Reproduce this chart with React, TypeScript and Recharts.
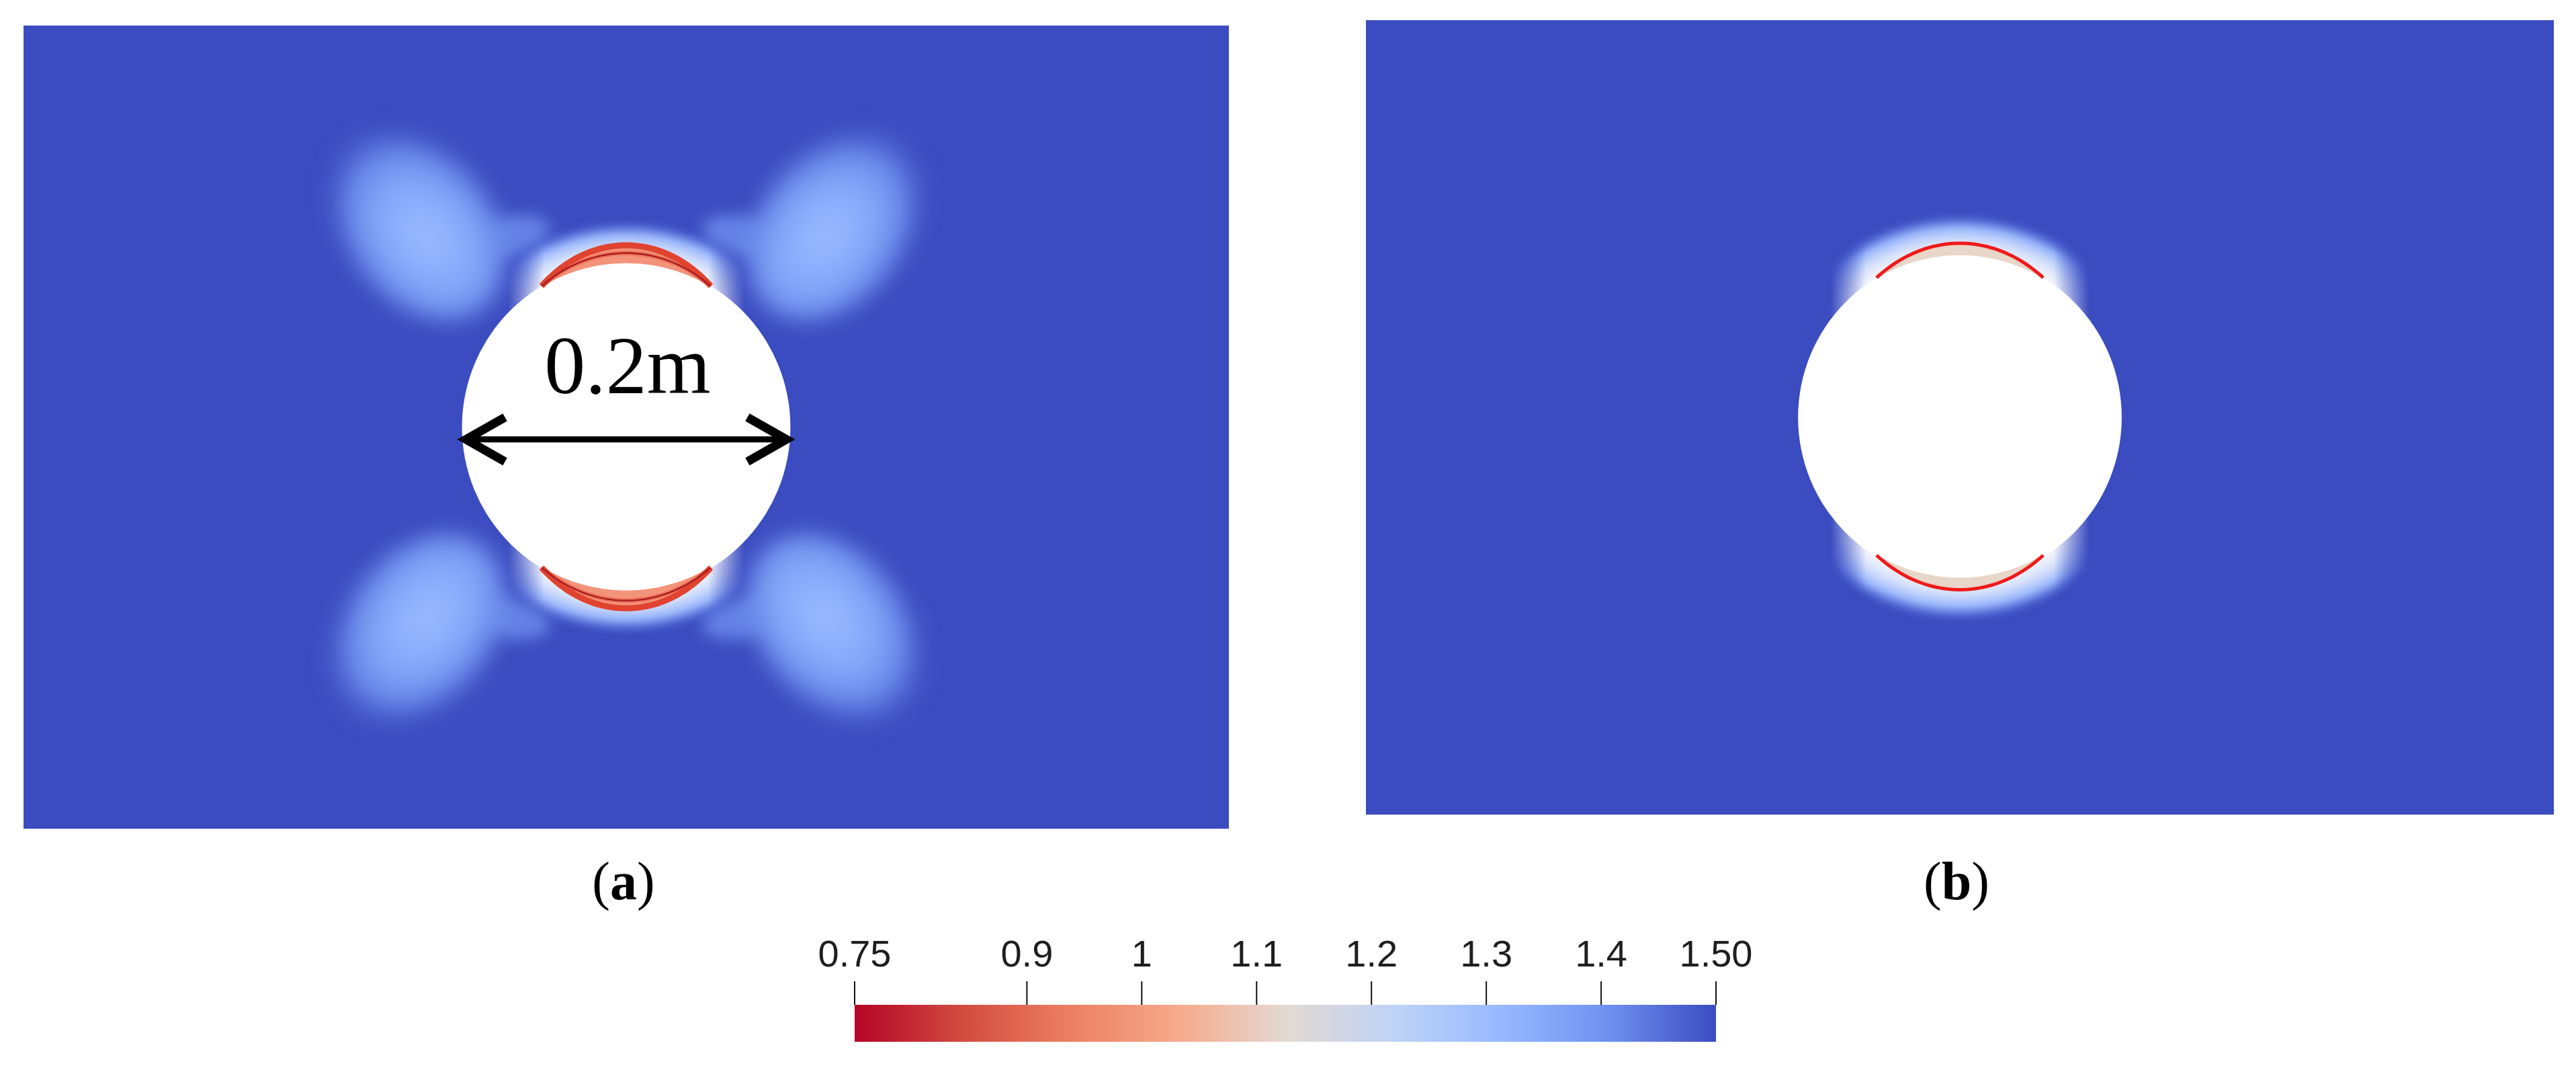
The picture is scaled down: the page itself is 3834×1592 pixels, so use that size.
import React from "react";
import { ComposedChart, XAxis, YAxis, ReferenceArea, ReferenceLine } from "recharts";

// field window in metres, cylinder centred at the origin
const xDomain = [-0.367, 0.367];
const yDomain = [-0.244, 0.244];
const cylinderR = 0.1;

// (a) four low-value lobes shed diagonally from the cylinder (angle points toward the cylinder)
const lobesA = [
  { x: -0.128, y: 0.124, rx: 0.066, ry: 0.046, angle: 52 },
  { x: 0.128, y: 0.124, rx: 0.066, ry: 0.046, angle: 128 },
  { x: -0.128, y: -0.124, rx: 0.066, ry: 0.046, angle: -52 },
  { x: 0.128, y: -0.124, rx: 0.066, ry: 0.046, angle: -128 },
];

// (a) bridges joining each lobe to the cap
const necksA = [
  { x: -0.072, y: 0.116, rx: 0.026, ry: 0.012, angle: -12 },
  { x: 0.072, y: 0.116, rx: 0.026, ry: 0.012, angle: 12 },
  { x: -0.072, y: -0.116, rx: 0.026, ry: 0.012, angle: 12 },
  { x: 0.072, y: -0.116, rx: 0.026, ry: 0.012, angle: -12 },
];

// pale caps above / below the cylinder: outer radius, full-strength and fade-out half-widths (m)
const capOuterR = 0.126;
const capBandA = [0.05, 0.072];
const capBandB = [0.058, 0.08];

// red crescents: direction (1 = top, -1 = bottom), half-span in degrees, thickness in m
const capDirs = [1, -1];
const capSpan = 31;
const capThickA = 0.0105;
const capThickB = 0.007;

// scale bar
const arrowY = -0.0075;
const arrowLabel = "0.2m";

// colour bar
const barDomain = [0.75, 1.5];
const barTicks = [0.75, 0.9, 1, 1.1, 1.2, 1.3, 1.4, 1.5];
const barLabels = ["0.75", "0.9", "1", "1.1", "1.2", "1.3", "1.4", "1.50"];

const BLUE = "#3b4cc0";

function Lobe({ x, y, width, height, angle, id }: any) {
  const cx = x + width / 2;
  const cy = y + height / 2;
  return (
    <ellipse
      cx={cx}
      cy={cy}
      rx={width / 2}
      ry={height / 2}
      transform={`rotate(${angle} ${cx} ${cy})`}
      fill={`url(#lobe-${id})`}
      filter={`url(#blur-${id})`}
    />
  );
}

function Neck({ x, y, width, height, angle, id }: any) {
  const cx = x + width / 2;
  const cy = y + height / 2;
  return (
    <ellipse
      cx={cx}
      cy={cy}
      rx={width / 2}
      ry={height / 2}
      transform={`rotate(${angle} ${cx} ${cy})`}
      fill="#7393f1"
      fillOpacity={0.75}
      filter={`url(#mid-${id})`}
    />
  );
}

// cap glow: ring round the cylinder, faded out sideways by a horizontal mask
function Caps({ x, y, width, height, band, id }: any) {
  const cx = x + width / 2;
  const cy = y + height / 2;
  const span = 2 * capOuterR;
  const o = (v: number) => `${(100 * v).toFixed(2)}%`;
  const inA = 0.5 - band[0] / span;
  const outA = 0.5 - band[1] / span;
  return (
    <g>
      <linearGradient id={`capfade-${id}`} x1="0" y1="0" x2="1" y2="0">
        <stop offset={o(outA)} stopColor="#000" />
        <stop offset={o(inA)} stopColor="#fff" />
        <stop offset={o(1 - inA)} stopColor="#fff" />
        <stop offset={o(1 - outA)} stopColor="#000" />
      </linearGradient>
      <mask id={`capmask-${id}`} maskUnits="userSpaceOnUse" x={x} y={y} width={width} height={height}>
        <rect x={x} y={y} width={width} height={height} fill={`url(#capfade-${id})`} />
      </mask>
      <g mask={`url(#capmask-${id})`}>
        <circle cx={cx} cy={cy} r={width / 2} fill={`url(#halo-${id})`} filter={`url(#soft-${id})`} />
      </g>
    </g>
  );
}

function Cylinder({ x, y, width, height }: any) {
  return <ellipse cx={x + width / 2} cy={y + height / 2} rx={width / 2} ry={height / 2} fill="#ffffff" />;
}

function arcPoints(cx: number, cy: number, R: number, dir: number, thick: number, n = 48) {
  const pts: [number, number][] = [];
  for (let i = 0; i <= n; i++) {
    const phi = -capSpan + (2 * capSpan * i) / n;
    const rad = (phi * Math.PI) / 180;
    const r = R + thick * Math.cos((phi / capSpan) * (Math.PI / 2));
    pts.push([cx + r * Math.sin(rad), cy - dir * r * Math.cos(rad)]);
  }
  return pts;
}

function Crescent({ x, y, width, dir, thick, panel }: any) {
  const R = width / 2;
  const cx = x + R;
  const cy = y + R;
  const tpx = (thick / cylinderR) * R;
  const line = (pts: [number, number][]) => pts.map((p, i) => `${i ? "L" : "M"}${p[0].toFixed(1)},${p[1].toFixed(1)}`).join(" ");
  const outer = arcPoints(cx, cy, R, dir, tpx);
  const mid = arcPoints(cx, cy, R, dir, tpx * 0.55);
  const base = arcPoints(cx, cy, R - 1, dir, 0).reverse();
  const fillPath = line(outer) + " " + base.map((p) => `L${p[0].toFixed(1)},${p[1].toFixed(1)}`).join(" ") + " Z";
  if (panel === "a") {
    return (
      <g>
        <path d={fillPath} fill="#f3937a" />
        <path d={line(mid)} fill="none" stroke="#ee7458" strokeWidth={7} />
        <path d={line(outer)} fill="none" stroke="#e0432f" strokeWidth={9} />
        <path d={line(mid)} fill="none" stroke="#a91d24" strokeWidth={2.5} />
      </g>
    );
  }
  return (
    <g>
      <path d={fillPath} fill="#e8d6c9" />
      <path d={line(outer)} fill="none" stroke="#f01a1a" strokeWidth={5} />
    </g>
  );
}

function ScaleArrow({ x1, y1, x2 }: any) {
  const y = y1;
  return (
    <g>
      <line x1={x1 + 6} y1={y} x2={x2 - 6} y2={y} stroke="#000" strokeWidth={9} />
      <polyline points={`${x1 + 64},${y - 33} ${x1 + 6},${y} ${x1 + 64},${y + 33}`} fill="none" stroke="#000" strokeWidth={13} />
      <polyline points={`${x2 - 64},${y - 33} ${x2 - 6},${y} ${x2 - 64},${y + 33}`} fill="none" stroke="#000" strokeWidth={13} />
      <text x={(x1 + x2) / 2 + 2} y={y - 69} textAnchor="middle" fontFamily="Liberation Serif" fontSize={122} fill="#000">
        {arrowLabel}
      </text>
    </g>
  );
}

function Field({ id, width, height, lobes, necks, capThick, capBand, arrow }: any) {
  return (
    <ComposedChart width={width} height={height} margin={{ top: 0, right: 0, bottom: 0, left: 0 }}>
      <defs>
        <radialGradient id={`lobe-${id}`} cx="58%" cy="50%" r="55%">
          <stop offset="0%" stopColor="#9bbbff" />
          <stop offset="45%" stopColor="#88a9fa" />
          <stop offset="78%" stopColor="#6a89eb" />
          <stop offset="100%" stopColor="#4d62d2" stopOpacity={0.3} />
        </radialGradient>
        <radialGradient id={`halo-${id}`} cx="50%" cy="50%" r="50%">
          <stop offset="79%" stopColor="#f6f7fb" />
          <stop offset="86%" stopColor="#d8e3fa" />
          <stop offset="93%" stopColor="#98b6fc" />
          <stop offset="100%" stopColor="#5674e2" stopOpacity={0} />
        </radialGradient>
        <filter id={`blur-${id}`} x="-50%" y="-50%" width="200%" height="200%">
          <feGaussianBlur stdDeviation={16} />
        </filter>
        <filter id={`mid-${id}`} x="-50%" y="-50%" width="200%" height="200%">
          <feGaussianBlur stdDeviation={11} />
        </filter>
        <filter id={`soft-${id}`} x="-50%" y="-50%" width="200%" height="200%">
          <feGaussianBlur stdDeviation={5} />
        </filter>
      </defs>
      <XAxis type="number" dataKey="x" domain={xDomain} hide allowDataOverflow />
      <YAxis type="number" dataKey="y" domain={yDomain} hide allowDataOverflow />
      <ReferenceArea x1={xDomain[0]} x2={xDomain[1]} y1={yDomain[0]} y2={yDomain[1]} fill={BLUE} fillOpacity={1} stroke="none" />
      {necks.map((l: any, i: number) => (
        <ReferenceArea
          key={`neck${i}`}
          x1={l.x - l.rx}
          x2={l.x + l.rx}
          y1={l.y - l.ry}
          y2={l.y + l.ry}
          shape={(p: any) => <Neck {...p} angle={l.angle} id={id} />}
        />
      ))}
      {lobes.map((l: any, i: number) => (
        <ReferenceArea
          key={`lobe${i}`}
          x1={l.x - l.rx}
          x2={l.x + l.rx}
          y1={l.y - l.ry}
          y2={l.y + l.ry}
          shape={(p: any) => <Lobe {...p} angle={l.angle} id={id} />}
        />
      ))}
      <ReferenceArea
        x1={-capOuterR}
        x2={capOuterR}
        y1={-capOuterR}
        y2={capOuterR}
        shape={(p: any) => <Caps {...p} band={capBand} id={id} />}
      />
      <ReferenceArea x1={-cylinderR} x2={cylinderR} y1={-cylinderR} y2={cylinderR} shape={(p: any) => <Cylinder {...p} />} />
      {capDirs.map((d) => (
        <ReferenceArea
          key={`cap${d}`}
          x1={-cylinderR}
          x2={cylinderR}
          y1={-cylinderR}
          y2={cylinderR}
          shape={(p: any) => <Crescent {...p} dir={d} thick={capThick} panel={id} />}
        />
      ))}
      {arrow && (
        <ReferenceLine
          segment={[
            { x: -cylinderR, y: arrowY },
            { x: cylinderR, y: arrowY },
          ]}
          shape={(p: any) => <ScaleArrow {...p} />}
        />
      )}
    </ComposedChart>
  );
}

const barData = barTicks.map((v) => ({ v, y: 0.5 }));

function ColorBar() {
  return (
    <ComposedChart width={1430} height={180} data={barData} margin={{ top: 0, right: 76, bottom: 10, left: 72 }}>
      <defs>
        <linearGradient id="coolwarm" x1="0" y1="0" x2="1" y2="0">
          <stop offset="0%" stopColor="#b40426" />
          <stop offset="12.5%" stopColor="#d24b40" />
          <stop offset="25%" stopColor="#ec7f63" />
          <stop offset="37.5%" stopColor="#f6a98b" />
          <stop offset="50%" stopColor="#e4d9d2" />
          <stop offset="62.5%" stopColor="#bfd3f6" />
          <stop offset="75%" stopColor="#98b9ff" />
          <stop offset="87.5%" stopColor="#7090f0" />
          <stop offset="100%" stopColor="#3b4cc0" />
        </linearGradient>
      </defs>
      <XAxis
        dataKey="v"
        type="number"
        orientation="top"
        domain={barDomain}
        ticks={barTicks}
        interval={0}
        tickFormatter={(v: number, i: number) => barLabels[i]}
        height={115}
        tickSize={35}
        tickMargin={22}
        axisLine={false}
        tickLine={{ stroke: "#111", strokeWidth: 2 }}
        tick={{ fontSize: 56, fill: "#1e1e1e", fontFamily: "Liberation Sans" }}
      />
      <YAxis dataKey="y" type="number" domain={[0, 1]} hide />
      <ReferenceArea x1={barDomain[0]} x2={barDomain[1]} y1={0} y2={1} fill="url(#coolwarm)" fillOpacity={1} stroke="none" />
    </ComposedChart>
  );
}

export default function App() {
  return (
    <div style={{ position: "absolute", left: 0, top: 0, width: 3834, height: 1592, background: "#fff", overflow: "hidden" }}>
      <div style={{ position: "absolute", left: 35, top: 38 }}>
        <Field id="a" width={1794} height={1195} lobes={lobesA} necks={necksA} capThick={capThickA} capBand={capBandA} arrow />
      </div>
      <div style={{ position: "absolute", left: 2033, top: 30 }}>
        <Field id="b" width={1768} height={1182} lobes={[]} necks={[]} capThick={capThickB} capBand={capBandB} arrow={false} />
      </div>
      <div style={{ position: "absolute", left: 1200, top: 1380 }}>
        <ColorBar />
      </div>
      <svg style={{ position: "absolute", left: 0, top: 0 }} width={3834} height={1592} pointerEvents="none">
        <text x={928} y={1338} textAnchor="middle" fontFamily="Liberation Serif" fontSize={80} fill="#000">
          (<tspan fontWeight="bold">a</tspan>)
        </text>
        <text x={2912} y={1338} textAnchor="middle" fontFamily="Liberation Serif" fontSize={80} fill="#000">
          (<tspan fontWeight="bold">b</tspan>)
        </text>
      </svg>
    </div>
  );
}
